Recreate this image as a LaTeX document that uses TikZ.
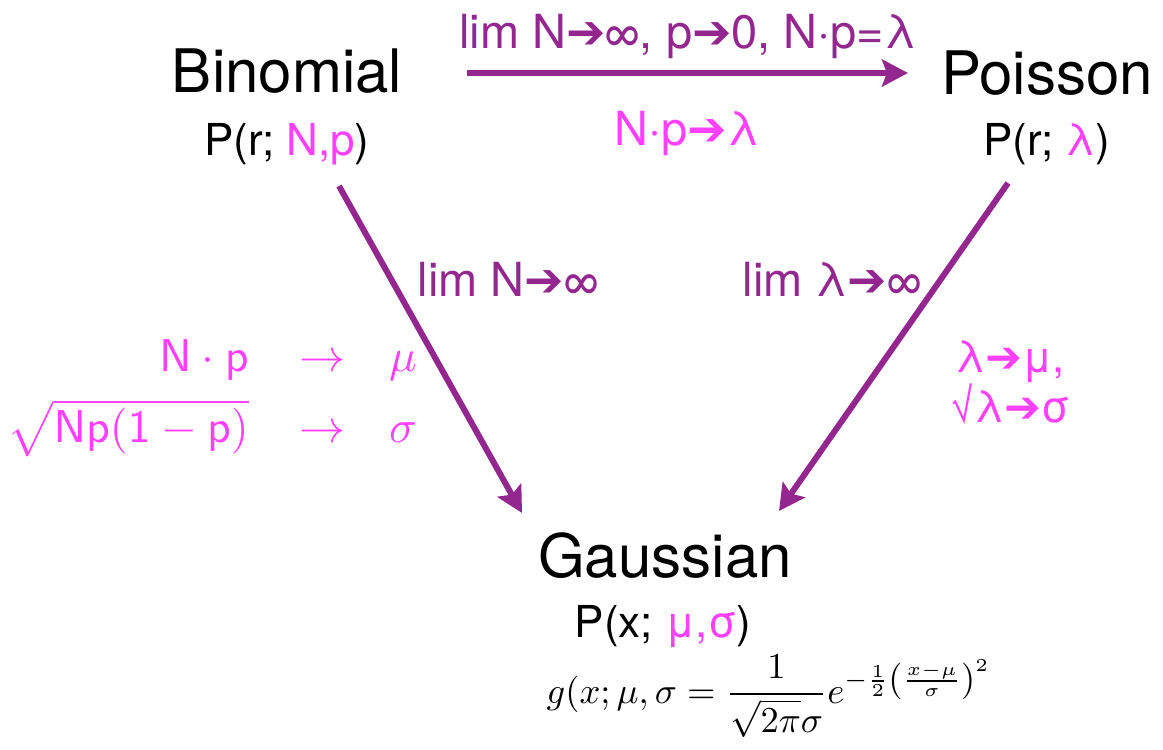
\documentclass[tikz,border=0pt]{standalone}
\usepackage{graphicx}
\usepackage[no-math]{fontspec}
\setmainfont{TeX Gyre Heros}
\newfontfamily\arrfont{DejaVu Sans}
\usetikzlibrary{arrows.meta}
\definecolor{purp}{RGB}{147,38,143}
\definecolor{mypink}{RGB}{255,64,255}
\newcommand\harr{{\arrfont\char"2794}}
\begin{document}
\begin{tikzpicture}[x=1pt,y=-1pt,
  every node/.style={inner sep=0pt,outer sep=0pt},
  big/.style={anchor=base,font=\fontsize{60}{72}\selectfont},
  mid/.style={anchor=base,font=\fontsize{44}{52}\selectfont},
  lab/.style={anchor=base,font=\fontsize{47}{55}\selectfont},
  conn/.style={draw=purp,line width=6pt,-{Stealth[length=26pt,width=27pt,inset=5pt]}}]
\useasboundingbox (0,0) rectangle (1163,750);
\node[big] (bin) at (287,92) {Binomial};
\node[mid] (binp) at (287,155) {P(r; \textcolor{mypink}{N,p})};
\node[big] (poi) at (1047,94) {Poisson};
\node[mid] (poip) at (1047,155) {P(r; \textcolor{mypink}{λ})};
\node[big] (gau) at (665,577) {Gaussian};
\node[mid] (gaup) at (663,637) {P(x; \textcolor{mypink}{μ,σ})};
\node (form) at (769,696) {\scalebox{3.65}{$\displaystyle g(x;\mu,\sigma = \frac{1}{\sqrt{2\pi}\sigma}e^{-\frac{1}{2}\left(\frac{x-\mu}{\sigma}\right)^2}$}};
\node[lab,text=purp] (toplab) at (688,48) {lim N\harr∞, p\harr0, N·p=λ};
\node[lab,text=mypink] (botlab) at (687,145) {N·p\harr λ};
\node[lab,text=purp] (leftlab) at (508,296) {lim N\harr∞};
\node[lab,text=purp] (rightlab) at (832,296) {lim λ\harr∞};
\node[anchor=east,text=mypink] (leftmath) at (417,396) {\scalebox{4.6}{%
 $\begin{array}{@{}r@{\hspace{11pt}}c@{\hspace{9.5pt}}l@{}}
 \mathsf{N}\cdot\mathsf{p} & \rightarrow & \mu \\[2.5pt]
 \sqrt{\mathsf{Np}(\mathsf{1}-\mathsf{p})} & \rightarrow & \sigma
 \end{array}$}};
\node[mid,text=mypink] (rm1) at (1010,372) {λ\harr μ,};
\node[mid,text=mypink] (rm2) at (1010,422) {√λ\harr σ};
\coordinate (a1) at (467,73);
\coordinate (a2) at (908,73);
\coordinate (b1) at (339,186);
\coordinate (b2) at (522,513);
\coordinate (c1) at (1008,183);
\coordinate (c2) at (779,511);
\draw[conn] (a1) -- (a2);
\draw[conn] (b1) -- (b2);
\draw[conn] (c1) -- (c2);
\end{tikzpicture}
\end{document}
